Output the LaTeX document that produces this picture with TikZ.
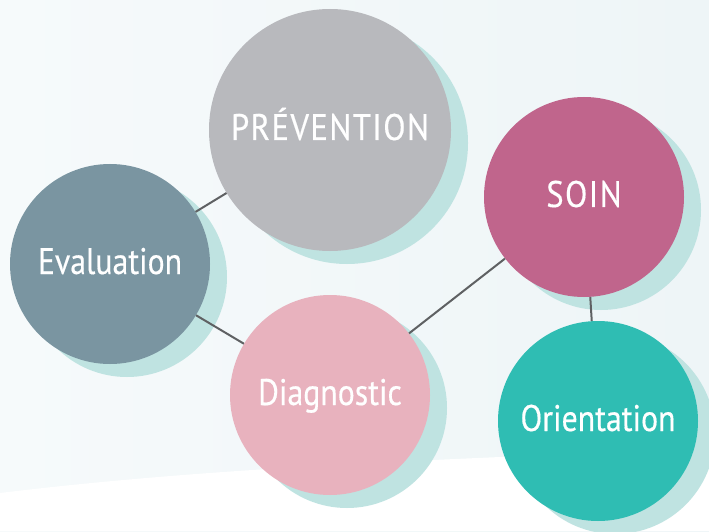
\documentclass[tikz,border=0pt]{standalone}
\usepackage{fontspec}
\newfontfamily\bubblefont{PT Sans}[FakeStretch=0.86, FakeBold=0.4]
\newfontfamily\capsfont{PT Sans}[FakeStretch=0.88, FakeBold=0.4, LetterSpace=4]
\usetikzlibrary{shadows}
\definecolor{prevc}{HTML}{B8B9BD}
\definecolor{evalc}{HTML}{7A95A1}
\definecolor{soinc}{HTML}{C0658C}
\definecolor{diagc}{HTML}{E8B2BE}
\definecolor{orientc}{HTML}{2FBDB3}
\definecolor{shadowc}{HTML}{BFE3E1}
\definecolor{linkc}{HTML}{5F6163}
\definecolor{bgleft}{HTML}{F6FAFB}
\definecolor{bgright}{HTML}{EEF5F7}
\tikzset{
  bubble/.style = { circle, minimum size=200pt, inner sep=0pt, text=white,
                    font=\bubblefont\fontsize{37}{40}\selectfont,
                    text height=20pt, text depth=0pt,
                    drop shadow={shadow xshift=17pt, shadow yshift=-13pt,
                                 fill=shadowc, opacity=1} },
  caps/.style   = { font=\capsfont\fontsize{37}{40}\selectfont },
  big/.style    = { minimum size=242pt },
  link/.style   = { line width=2pt, color=linkc }
}

\begin{document}
\begin{tikzpicture}[x=1pt, y=1pt]
  \clip (0,0) rectangle (709,531);
  \shade[left color=bgleft, right color=bgright] (0,0) rectangle (709,531);
  \fill[white] (0,38) .. controls (230,66) and (470,72) .. (709,83)
    -- (709,0) -- (0,0) -- cycle;

  \node[bubble, big, caps, fill=prevc] (prev) at (330,401) {PRÉVENTION};
  \node[bubble, fill=evalc]      (eval) at (110,267) {Evaluation};
  \node[bubble, caps, fill=soinc] (soin) at (584,334) {SOIN};
  \node[bubble, fill=diagc]      (diag) at (330,136) {Diagnostic};
  \node[bubble, fill=orientc]    (orient) at (598,110) {Orientation};

  \foreach \a/\b in {eval/prev, eval/diag, diag/soin, soin/orient}
    \draw [link] (\a) -- (\b);
\end{tikzpicture}
\end{document}
